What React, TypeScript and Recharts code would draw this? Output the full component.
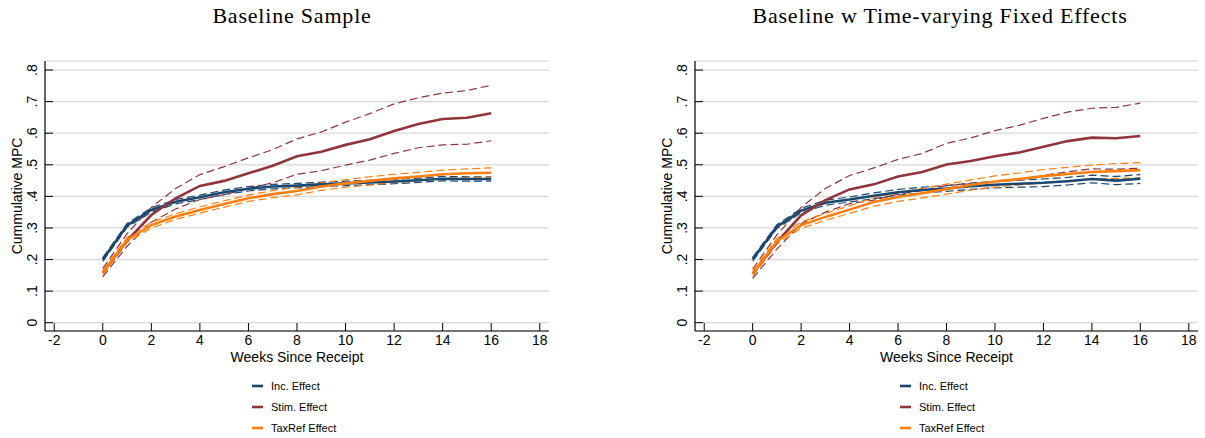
import React from 'react';
import { LineChart, Line, XAxis, YAxis, CartesianGrid } from 'recharts';

const weeks = [0, 1, 2, 3, 4, 5, 6, 7, 8, 9, 10, 11, 12, 13, 14, 15, 16];
const xTicks = [-2, 0, 2, 4, 6, 8, 10, 12, 14, 16, 18];
const yTicks = [0, 0.1, 0.2, 0.3, 0.4, 0.5, 0.6, 0.7, 0.8];
const seriesNames = ['Inc. Effect', 'Stim. Effect', 'TaxRef Effect'];
const titles = ['Baseline Sample', 'Baseline w Time-varying Fixed Effects'];

// Baseline sample
const incL = [0.200, 0.308, 0.357, 0.383, 0.397, 0.413, 0.424, 0.431, 0.434, 0.438, 0.441, 0.444, 0.447, 0.451, 0.456, 0.455, 0.455];
const incLHi = [0.206, 0.314, 0.364, 0.390, 0.404, 0.420, 0.431, 0.438, 0.441, 0.445, 0.448, 0.451, 0.454, 0.458, 0.463, 0.462, 0.462];
const incLLo = [0.194, 0.302, 0.350, 0.376, 0.390, 0.406, 0.417, 0.424, 0.427, 0.431, 0.434, 0.437, 0.440, 0.444, 0.449, 0.448, 0.448];
const stimL = [0.158, 0.260, 0.341, 0.394, 0.433, 0.449, 0.473, 0.497, 0.527, 0.541, 0.563, 0.581, 0.607, 0.629, 0.645, 0.649, 0.663];
const stimLHi = [0.172, 0.282, 0.365, 0.425, 0.469, 0.494, 0.522, 0.548, 0.582, 0.604, 0.635, 0.662, 0.693, 0.712, 0.727, 0.735, 0.752];
const stimLLo = [0.145, 0.242, 0.318, 0.360, 0.390, 0.405, 0.425, 0.443, 0.470, 0.481, 0.499, 0.515, 0.536, 0.554, 0.563, 0.565, 0.576];
const taxL = [0.158, 0.262, 0.309, 0.336, 0.357, 0.376, 0.394, 0.407, 0.417, 0.431, 0.441, 0.449, 0.457, 0.463, 0.470, 0.473, 0.475];
const taxLHi = [0.166, 0.270, 0.318, 0.345, 0.367, 0.386, 0.404, 0.418, 0.429, 0.443, 0.453, 0.462, 0.470, 0.476, 0.483, 0.487, 0.490];
const taxLLo = [0.150, 0.254, 0.300, 0.327, 0.347, 0.366, 0.384, 0.396, 0.405, 0.419, 0.429, 0.436, 0.444, 0.450, 0.457, 0.459, 0.461];

// Time-varying fixed effects
const incR = [0.201, 0.304, 0.355, 0.380, 0.390, 0.402, 0.413, 0.420, 0.425, 0.432, 0.437, 0.440, 0.443, 0.448, 0.455, 0.450, 0.456];
const incRHi = [0.207, 0.310, 0.362, 0.388, 0.398, 0.411, 0.422, 0.429, 0.434, 0.442, 0.447, 0.451, 0.455, 0.460, 0.467, 0.463, 0.469];
const incRLo = [0.195, 0.298, 0.348, 0.372, 0.382, 0.393, 0.404, 0.411, 0.416, 0.422, 0.427, 0.429, 0.431, 0.436, 0.443, 0.437, 0.441];
const stimR = [0.155, 0.255, 0.340, 0.388, 0.422, 0.438, 0.463, 0.477, 0.501, 0.512, 0.527, 0.539, 0.557, 0.575, 0.586, 0.584, 0.591];
const stimRHi = [0.170, 0.278, 0.365, 0.425, 0.466, 0.490, 0.517, 0.536, 0.568, 0.585, 0.608, 0.625, 0.647, 0.667, 0.679, 0.682, 0.695];
const stimRLo = [0.140, 0.233, 0.313, 0.350, 0.377, 0.388, 0.407, 0.418, 0.434, 0.440, 0.446, 0.453, 0.466, 0.478, 0.487, 0.486, 0.489];
const taxR = [0.155, 0.258, 0.309, 0.335, 0.358, 0.382, 0.398, 0.410, 0.423, 0.436, 0.447, 0.455, 0.464, 0.471, 0.477, 0.480, 0.483];
const taxRHi = [0.163, 0.267, 0.319, 0.346, 0.370, 0.395, 0.412, 0.425, 0.439, 0.452, 0.465, 0.474, 0.485, 0.492, 0.499, 0.504, 0.507];
const taxRLo = [0.147, 0.249, 0.299, 0.324, 0.346, 0.369, 0.384, 0.395, 0.407, 0.420, 0.429, 0.436, 0.443, 0.450, 0.455, 0.457, 0.459];

const NAVY = '#1a476f';
const MAROON = '#90353b';
const ORANGE = '#ff7f0e';
const colors = [NAVY, MAROON, ORANGE];

const buildRows = (s: number[][]) =>
  weeks.map((w, i) => ({
    week: w,
    inc: s[0][i], incHi: s[1][i], incLo: s[2][i],
    stim: s[3][i], stimHi: s[4][i], stimLo: s[5][i],
    tax: s[6][i], taxHi: s[7][i], taxLo: s[8][i],
  }));

const dataLeft = buildRows([incL, incLHi, incLLo, stimL, stimLHi, stimLLo, taxL, taxLHi, taxLLo]);
const dataRight = buildRows([incR, incRHi, incRLo, stimR, stimRHi, stimRLo, taxR, taxRHi, taxRLo]);

const SANS = '"Liberation Sans", Arial, sans-serif';

const fmtY = (v: number) => (Math.abs(v) < 1e-9 ? '0' : '.' + Math.round(v * 10));

const YTick = (props: any) => {
  const { x, y, payload } = props;
  const tx = x - 7.5;
  return (
    <g>
      <line x1={x} x2={x + 8} y1={y} y2={y} stroke="#000" strokeWidth={1} />
      <text x={tx} y={y} transform={`rotate(-90, ${tx}, ${y})`} textAnchor="middle" fontSize={14} fontFamily={SANS} fill="#000">
        {fmtY(payload.value)}
      </text>
    </g>
  );
};

const XTick = (props: any) => {
  const { x, y, payload } = props;
  return (
    <g>
      <line x1={x} x2={x} y1={y} y2={y - 8} stroke="#000" strokeWidth={1} />
      <text x={x} y={y + 14} textAnchor="middle" fontSize={14} fontFamily={SANS} fill="#000">
        {String(payload.value)}
      </text>
    </g>
  );
};

const XLabel = (props: any) => {
  const vb = props.viewBox || {};
  return (
    <text x={vb.x + vb.width / 2} y={vb.y + 30.7} textAnchor="middle" fontSize={14} fontFamily={SANS} fill="#000">
      Weeks Since Receipt
    </text>
  );
};

const YLabel = (props: any) => {
  const vb = props.viewBox || {};
  const cx = 22;
  const cy = vb.y + vb.height / 2;
  return (
    <text x={cx} y={cy} transform={`rotate(-90, ${cx}, ${cy})`} textAnchor="middle" fontSize={14} fontFamily={SANS} fill="#000">
      Cummulative MPC
    </text>
  );
};

const Panel = ({ data, left, width, right }: { data: any[]; left: number; width: number; right: number }) => (
  <div style={{ position: 'absolute', left, top: 0 }}>
    <LineChart width={width} height={438} data={data} margin={{ top: 61, right, bottom: 77, left: 0 }}>
      <CartesianGrid horizontal vertical={false} stroke="#d8d8d8" strokeWidth={1.2} />
      <XAxis
        dataKey="week"
        type="number"
        domain={[-2.38, 18.38]}
        ticks={xTicks}
        allowDataOverflow
        height={30}
        tickSize={0}
        tickMargin={0}
        tick={<XTick />}
        axisLine={{ stroke: '#000', strokeWidth: 1.2 }}
        tickLine={false}
        label={<XLabel />}
      />
      <YAxis
        type="number"
        domain={[-0.0263, 0.8286]}
        ticks={yTicks}
        allowDataOverflow
        width={45}
        tickSize={0}
        tickMargin={0}
        tick={<YTick />}
        axisLine={{ stroke: '#000', strokeWidth: 1.2 }}
        tickLine={false}
        label={<YLabel />}
      />
      <Line dataKey="incHi" stroke={NAVY} strokeWidth={1.2} strokeDasharray="8 4" dot={false} isAnimationActive={false} />
      <Line dataKey="incLo" stroke={NAVY} strokeWidth={1.2} strokeDasharray="8 4" dot={false} isAnimationActive={false} />
      <Line dataKey="stimHi" stroke={MAROON} strokeWidth={1.2} strokeDasharray="8 4" dot={false} isAnimationActive={false} />
      <Line dataKey="stimLo" stroke={MAROON} strokeWidth={1.2} strokeDasharray="8 4" dot={false} isAnimationActive={false} />
      <Line dataKey="taxHi" stroke={ORANGE} strokeWidth={1.2} strokeDasharray="8 4" dot={false} isAnimationActive={false} />
      <Line dataKey="taxLo" stroke={ORANGE} strokeWidth={1.2} strokeDasharray="8 4" dot={false} isAnimationActive={false} />
      <Line dataKey="inc" stroke={NAVY} strokeWidth={2.6} dot={false} isAnimationActive={false} />
      <Line dataKey="stim" stroke={MAROON} strokeWidth={2.6} dot={false} isAnimationActive={false} />
      <Line dataKey="tax" stroke={ORANGE} strokeWidth={2.6} dot={false} isAnimationActive={false} />
    </LineChart>
  </div>
);

const Legend = ({ x }: { x: number }) => (
  <g>
    {seriesNames.map((n, i) => {
      const y = 386 + i * 21;
      return (
        <g key={n}>
          <line x1={x} x2={x + 11} y1={y} y2={y} stroke={colors[i]} strokeWidth={2.6} />
          <text x={x + 19} y={y + 4} fontSize={11} fontFamily={SANS} fill="#000">{n}</text>
        </g>
      );
    })}
  </g>
);

export default function App() {
  return (
    <div style={{ position: 'absolute', left: 0, top: 0, width: 1205, height: 438, background: '#fff', overflow: 'hidden' }}>
      <Panel data={dataLeft} left={0} width={600} right={51} />
      <Panel data={dataRight} left={650} width={555} right={7} />
      <svg width={1205} height={438} style={{ position: 'absolute', left: 0, top: 0, pointerEvents: 'none' }}>
        <text x={292} y={23} textAnchor="middle" fontSize={22} letterSpacing={0.8} fontFamily='"Liberation Serif", "Times New Roman", serif' fill="#000">{titles[0]}</text>
        <text x={940} y={23} textAnchor="middle" fontSize={22} letterSpacing={0.8} fontFamily='"Liberation Serif", "Times New Roman", serif' fill="#000">{titles[1]}</text>
        <Legend x={252} />
        <Legend x={900} />
      </svg>
    </div>
  );
}
